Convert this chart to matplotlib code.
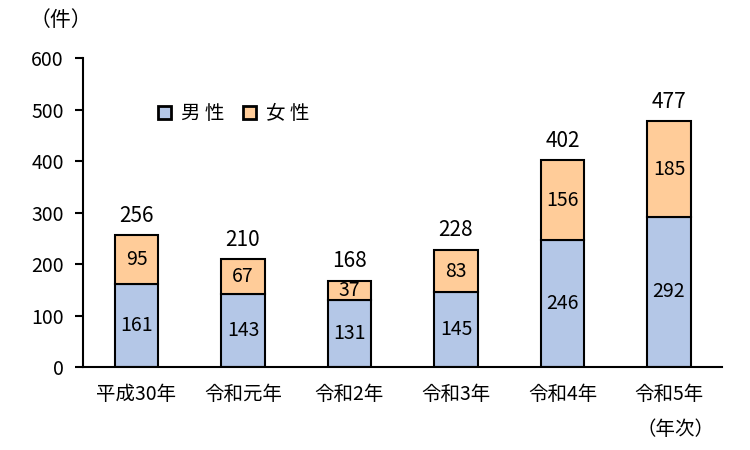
import matplotlib.pyplot as plt

plt.rcParams['font.family'] = ['Noto Sans CJK JP', 'DejaVu Sans']

years = ['平成30年', '令和元年', '令和2年', '令和3年', '令和4年', '令和5年']
male = [161, 143, 131, 145, 246, 292]
female = [95, 67, 37, 83, 156, 185]
totals = [m + f for m, f in zip(male, female)]

fig = plt.figure(figsize=(7.5, 4.5), dpi=100)
ax = fig.add_axes([0.111, 0.184, 0.852, 0.687])

x = range(len(years))
ax.bar(x, male, width=0.41, color='#B4C7E7', edgecolor='black', linewidth=1.5, label='男 性')
ax.bar(x, female, width=0.41, bottom=male, color='#FFCC99', edgecolor='black', linewidth=1.5, label='女 性')

for i in x:
    ax.text(i, male[i] / 2, str(male[i]), ha='center', va='center', fontsize=14)
    ax.text(i, male[i] + female[i] / 2, str(female[i]), ha='center', va='center', fontsize=14)
    ax.text(i, totals[i] + 16, str(totals[i]), ha='center', va='bottom', fontsize=15)

ax.set_xlim(-0.5, len(years) - 0.5)
ax.set_ylim(0, 600)
ax.set_yticks(range(0, 601, 100))
ax.set_xticks(list(x))
ax.set_xticklabels(years, fontsize=14)
ax.tick_params(axis='x', length=0, pad=12)
ax.tick_params(axis='y', labelsize=14, length=6, width=1.5, direction='out', pad=8)
ax.spines['top'].set_visible(False)
ax.spines['right'].set_visible(False)
ax.spines['left'].set_linewidth(1.5)
ax.spines['bottom'].set_linewidth(1.5)

leg = ax.legend(loc='upper left', bbox_to_anchor=(0.09, 0.91), ncol=2, frameon=False,
                fontsize=14, handlelength=0.65, handleheight=0.65, columnspacing=1.0, handletextpad=0.5)
for h in leg.legend_handles:
    h.set_linewidth(2)

fig.text(0.04, 0.955, '（件）', fontsize=15, ha='left', va='center')
fig.text(0.9, 0.045, '（年次）', fontsize=14, ha='center', va='center')

fig.savefig('out.png')
